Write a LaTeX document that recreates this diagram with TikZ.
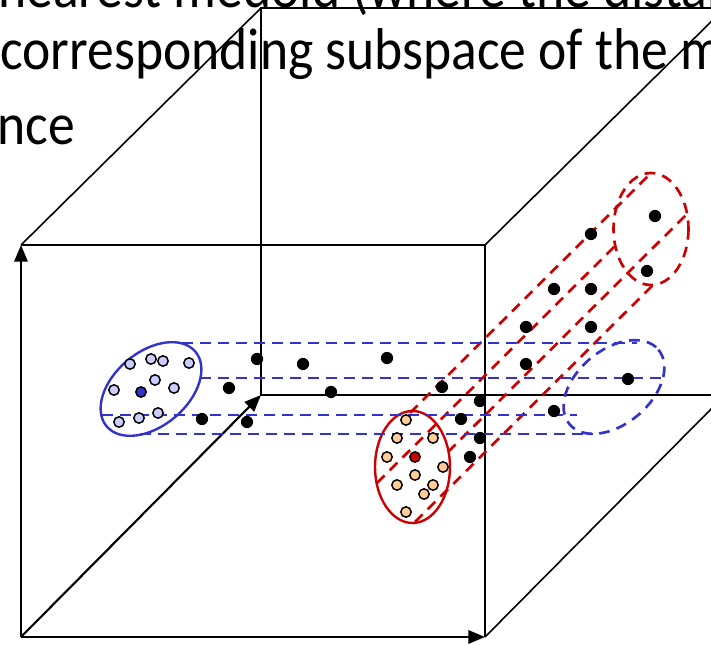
\documentclass[tikz,border=0pt]{standalone}
\usepackage{fontspec}
\setmainfont{Carlito}
\usepackage{tikz}
\usetikzlibrary{arrows.meta}
\definecolor{ClusterBlue}{HTML}{3333CC}
\definecolor{PaleBlue}{HTML}{CCCCFF}
\definecolor{ClusterRed}{HTML}{CC0000}
\definecolor{PaleOrange}{HTML}{FFCC99}
\newcommand{\tallline}[1]{\scalebox{1}[1.1]{#1}}

\begin{document}
\begin{tikzpicture}[
  x=0.75pt, y=-0.75pt,
  caption/.style={anchor=base west, inner sep=0pt, font=\fontsize{40.2}{48}\selectfont},
  edge/.style={black, line width=1.2pt},
  axis/.style={black, line width=1.6pt, -{Triangle[length=12.5pt, width=10pt]}},
  bluering/.style={draw=ClusterBlue, line width=1.8pt},
  redring/.style={draw=ClusterRed, line width=1.8pt},
  bluetube/.style={ClusterBlue, line width=2pt, dash pattern=on 8pt off 5.5pt},
  redtube/.style={ClusterRed, line width=2pt, dash pattern=on 8pt off 5.5pt},
  dot/.style={fill=black},
  ring/.style={draw=black, line width=1.1pt}
]
\useasboundingbox (0,0) rectangle (711,645);
\clip (0,0) rectangle (711,645);

% Text of the page behind the figure
\node[caption] (line1) at (-2,8) {\tallline{nearest medoid (where the distan}};
\node[caption] (line2) at (0,70) {\tallline{corresponding subspace of the m}};
\node[caption] (line3) at (-3,145) {\tallline{nce}};

% Cube: back face and depth edges
\draw[edge] (261,8) -- (725,8) -- (725,395) -- (261,395) -- cycle;
\draw[edge] (21,245) -- (261,8);
\draw[edge] (485,245) -- (725,8);
\draw[edge] (485,637) -- (725,395);
% Cube: front face
\draw[edge] (21,245) -- (485,245) -- (485,637);

% Axes
\coordinate (origin) at (21,637);
\draw[axis] (origin) -- (21,245);
\draw[axis] (origin) -- (485,637);
\draw[axis] (origin) -- (261,395);

% Red cluster and its projection tube
\draw[redring] (412.5,467) ellipse [x radius=37.5, y radius=56];
\draw[redtube] (651,229) ellipse [x radius=37.5, y radius=56];
\foreach \x/\y in {410/413, 377/483, 448/452, 415/522}
  \draw[redtube] (\x,\y) -- ++(239,-238);

% Blue cluster and its projection tube
\draw[bluering] (151,389) ellipse [x radius=58, y radius=37, rotate=40];
\draw[bluetube] (614,387) ellipse [x radius=58, y radius=37, rotate=40];
\draw[bluetube] (182,343) -- (637,343);
\draw[bluetube] (200,378) -- (662,378);
\draw[bluetube] (102,415) -- (577,415);
\draw[bluetube] (140,434) -- (593,434);

% Outlying points
\foreach \x/\y in {257/359, 303/364, 387/358, 229/388, 331/392, 202/419,
                   247/422, 442/387, 480/401, 461/419, 480/438, 470/457,
                   554/411, 526/364, 526/327, 554/289, 591/289, 591/327,
                   591/234, 655/216, 647/271, 628/379}
  \fill[dot] (\x,\y) circle (4.6pt);

% Blue cluster members
\foreach \x/\y in {130/364, 151/359, 163/361, 189/363, 114/390, 155/380,
                   174/388, 119/422, 139/418, 158/413}
  \draw[ring, fill=PaleBlue] (\x,\y) circle (3.9pt);
\draw[ring, fill=ClusterBlue] (141,392) circle (3.9pt);

% Red cluster members
\foreach \x/\y in {406/420, 397/438, 433/438, 387/457, 443/467, 415/475,
                   397/485, 433/485, 424/494, 406/512}
  \draw[ring, fill=PaleOrange] (\x,\y) circle (3.9pt);
\draw[ring, fill=ClusterRed] (415,457) circle (3.9pt);

\end{tikzpicture}
\end{document}
